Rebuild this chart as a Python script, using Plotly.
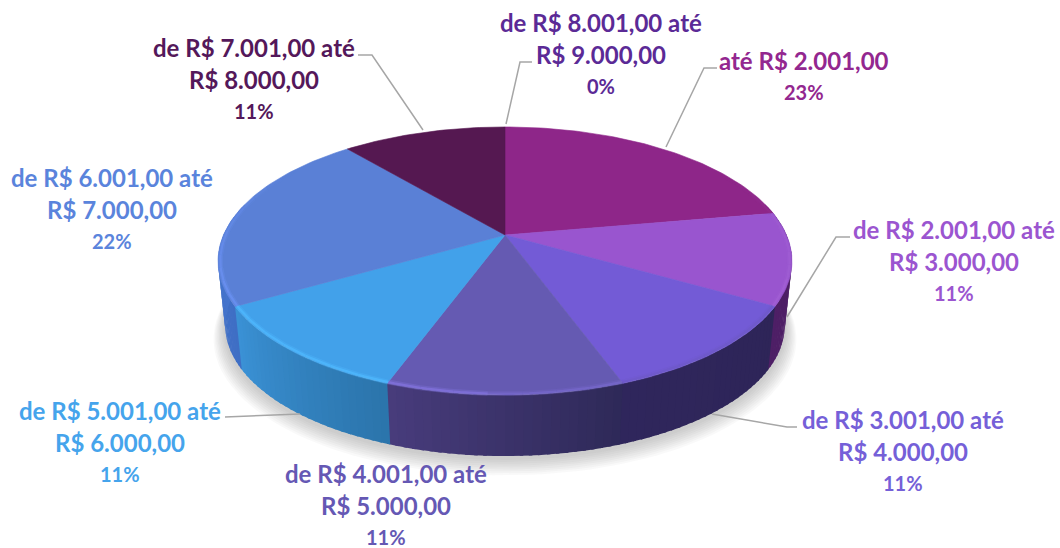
import numpy as np
import plotly.graph_objects as go

# ---- data ----
first_lines = ["até R$ 2.001,00", "de R$ 2.001,00 até", "de R$ 3.001,00 até", "de R$ 4.001,00 até",
               "de R$ 5.001,00 até", "de R$ 6.001,00 até", "de R$ 7.001,00 até", "de R$ 8.001,00 até"]
second_lines = ["", "R$ 3.000,00", "R$ 4.000,00", "R$ 5.000,00",
                "R$ 6.000,00", "R$ 7.000,00", "R$ 8.000,00", "R$ 9.000,00"]
# slice sizes as measured on the picture, and the percentages as printed on it
values = [22.2, 11.1, 11.1, 11.1, 11.1, 22.2, 11.1, 0]
printed_percent = [23, 11, 11, 11, 11, 22, 11, 0]

top_colors = ["#8e2689", "#9955cf", "#735bd6", "#655ab2", "#42a1ea", "#5a80d6", "#551851", "#5b2a96"]
text_colors = ["#93278f", "#9b55d0", "#7560d8", "#6558b4", "#45a4ec", "#5a84dc", "#54185a", "#5b2a96"]
side_start = ["#4a1c62", "#4e1f66", "#2e2558", "#2e2958", "#2b74ab", "#3f6ec4", "#3a1040", "#3a1040"]
side_end = ["#4e1f66", "#4e1f66", "#2f265c", "#483c7c", "#3b92d6", "#5080dc", "#3a1040", "#3a1040"]
rim_colors = ["#a040a0", "#a868d8", "#6a58c0", "#8474e0", "#50baff", "#6c92f4", "#6a2868", "#6a2868"]

label_x = [804, 954, 903, 386, 120, 112, 254, 601]
label_y = [60, 229, 419, 473, 410, 177, 47, 22]
leaders = [
    ([666, 704, 717], [147, 68, 68]),
    ([787, 836, 850], [317, 237, 237]),
    ([712, 787, 797], [414, 427, 427]),
    ([], []),
    ([300, 225], [414, 417]),
    ([], []),
    ([423, 372, 358], [130, 55, 55]),
    ([506, 520, 532], [124, 62, 62]),
]

# ---- projection of the tilted disc ----
CX, CY = 505, 235
R, S, K = 281.5, 129, 0.194
DROP, SHRINK = 65, 0.975
LINE_H = 32.7


def project(deg, scale=1.0, dy=0.0):
    a = np.radians(deg)
    u, v = np.sin(a), -np.cos(a)
    d = 1 - K * v
    return CX + scale * R * u / d, CY + dy + scale * S * v / d


def mix(c1, c2, t):
    a = [int(c1[i:i + 2], 16) for i in (1, 3, 5)]
    b = [int(c2[i:i + 2], 16) for i in (1, 3, 5)]
    return "rgb(%d,%d,%d)" % tuple(round(p + (q - p) * t) for p, q in zip(a, b))


def rgba(c, al):
    return "rgba(%d,%d,%d,%.3f)" % (int(c[1:3], 16), int(c[3:5], 16), int(c[5:7], 16), al)


def poly(x, y, fill, lw=0.8, line=None):
    return go.Scatter(x=list(x), y=list(y), mode="lines", fill="toself", fillcolor=fill,
                      line=dict(color=line or fill, width=lw), hoverinfo="skip", showlegend=False)


def stroke(x, y, color, w):
    return go.Scatter(x=list(x), y=list(y), mode="lines", line=dict(color=color, width=w, shape="linear"),
                      hoverinfo="skip", showlegend=False)


total = sum(values)
edges = np.concatenate([[0], np.cumsum(values)]) * 360.0 / total
fig = go.Figure()

# soft shadow under the disc
full = np.linspace(0, 360, 181)
for i in range(9):
    sx, sy = project(full, SHRINK + 0.0045 * (9 - i), DROP + 1.2 * (9 - i) + 2)
    fig.add_trace(poly(sx, sy, "rgba(90,90,90,0.035)", lw=0))

# side wall, strip by strip
for i, v in enumerate(values):
    if v == 0:
        continue
    a0, a1 = edges[i], edges[i + 1]
    n = max(int((a1 - a0) / 1.5), 1)
    grid = np.linspace(a0, a1, n + 1)
    for j in range(n):
        aa, ab = grid[j], grid[j + 1]
        if -np.cos(np.radians((aa + ab) / 2)) < -0.25:
            continue
        t = (j + 0.5) / n
        arc = np.linspace(aa, ab + 0.6, 3)
        tx, ty = project(arc)
        bx, by = project(arc[::-1], SHRINK, DROP)
        col = mix(side_start[i], side_end[i], t)
        fig.add_trace(poly(np.r_[tx, bx, tx[0]], np.r_[ty, by, ty[0]], col, lw=0))

# top faces
for i, v in enumerate(values):
    if v == 0:
        continue
    arc = np.linspace(edges[i], edges[i + 1], max(int(v * 3), 4))
    ax, ay = project(arc)
    fig.add_trace(poly(np.r_[CX, ax, CX], np.r_[CY, ay, CY], top_colors[i], lw=0.6))

# bevel highlight along the front rim
for i, v in enumerate(values):
    if v == 0:
        continue
    grid = np.linspace(edges[i], edges[i + 1], max(int(v * 0.7), 3) + 1)
    for j in range(len(grid) - 1):
        mid = (grid[j] + grid[j + 1]) / 2
        a = np.radians(mid)
        vv = -np.cos(a)
        strength = np.clip((vv + 0.55) / 0.9, 0, 1) * (0.85 if np.sin(a) < 0 else 0.45)
        if strength <= 0:
            continue
        seg = np.linspace(grid[j], grid[j + 1], 6)
        rx, ry = project(seg, 0.992)
        fig.add_trace(stroke(rx, ry, rgba(rim_colors[i], 0.35 * strength), 5))
        fig.add_trace(stroke(rx, ry, rgba(rim_colors[i], 0.8 * strength), 2.2))

# leader lines
for lx, ly in leaders:
    if lx:
        fig.add_trace(stroke(lx, ly, "#a6a6a6", 1.5))

# labels
ann = []
for i, p in enumerate(printed_percent):
    lines = [first_lines[i]] + ([second_lines[i]] if second_lines[i] else [])
    for k, txt in enumerate(lines):
        ann.append(dict(x=label_x[i], y=label_y[i] + k * LINE_H, text=txt, showarrow=False,
                        xref="x", yref="y", xanchor="center", yanchor="middle",
                        font=dict(family="Lato", size=24, color=text_colors[i], weight=700)))
    ann.append(dict(x=label_x[i], y=label_y[i] + len(lines) * LINE_H - 1, text="%d%%" % p, showarrow=False,
                    xref="x", yref="y", xanchor="center", yanchor="middle",
                    font=dict(family="Lato", size=20, color=text_colors[i], weight=700)))

fig.update_layout(
    width=1060, height=548, margin=dict(l=0, r=0, t=0, b=0),
    paper_bgcolor="white", plot_bgcolor="white", showlegend=False,
    xaxis=dict(range=[0, 1060], visible=False, fixedrange=True),
    yaxis=dict(range=[548, 0], visible=False, fixedrange=True),
    annotations=ann,
)
fig.write_html("out.html", config={"displayModeBar": False},
               post_script="document.body.style.margin='0';document.documentElement.style.overflow='hidden';")
